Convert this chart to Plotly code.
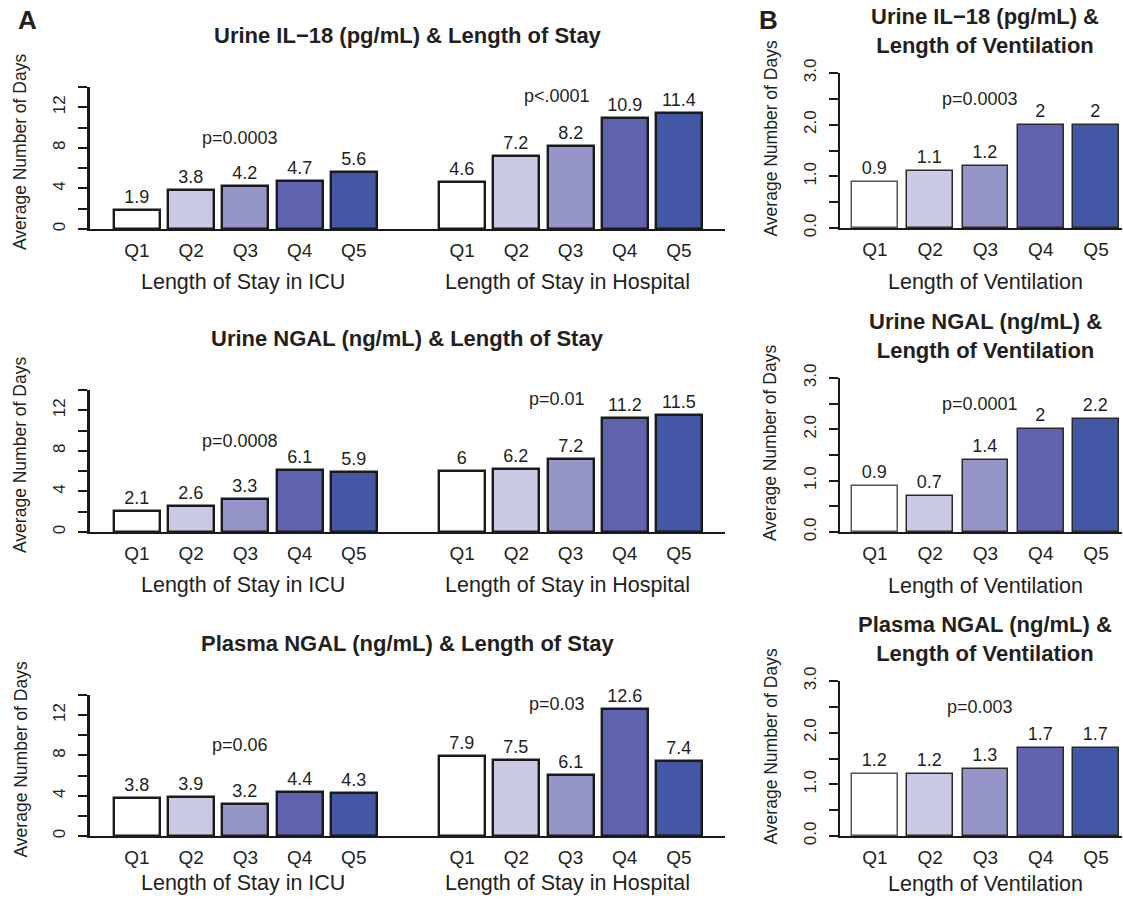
import plotly.graph_objects as go

W, H = 1123, 899

quartiles = ["Q1", "Q2", "Q3", "Q4", "Q5"]

# Panel A – length of stay (ICU, Hospital)
il18_icu = [1.9, 3.8, 4.2, 4.7, 5.6]
il18_hosp = [4.6, 7.2, 8.2, 10.9, 11.4]
ungal_icu = [2.1, 2.6, 3.3, 6.1, 5.9]
ungal_hosp = [6, 6.2, 7.2, 11.2, 11.5]
pngal_icu = [3.8, 3.9, 3.2, 4.4, 4.3]
pngal_hosp = [7.9, 7.5, 6.1, 12.6, 7.4]

# Panel B – length of ventilation
il18_vent = [0.9, 1.1, 1.2, 2, 2]
ungal_vent = [0.9, 0.7, 1.4, 2, 2.2]
pngal_vent = [1.2, 1.2, 1.3, 1.7, 1.7]

titles_A = ["Urine IL\u221218 (pg/mL) & Length of Stay",
            "Urine NGAL (ng/mL) & Length of Stay",
            "Plasma NGAL (ng/mL) & Length of Stay"]
titles_B = ["Urine IL\u221218 (pg/mL) &<br>Length of Ventilation",
            "Urine NGAL (ng/mL) &<br>Length of Ventilation",
            "Plasma NGAL (ng/mL) &<br>Length of Ventilation"]
p_icu = ["p=0.0003", "p=0.0008", "p=0.06"]
p_hosp = ["p<.0001", "p=0.01", "p=0.03"]
p_vent = ["p=0.0003", "p=0.0001", "p=0.003"]

q_colors = ["#FFFFFF", "#CBCAE5", "#9595C7", "#5F63AD", "#4357A5"]
B_outline = ["#555555", "#2A2A2A", "#2A2A2A", "#2A2A2A", "#2A2A2A"]

A_ticks = [0, 2, 4, 6, 8, 10, 12, 14]
A_ticktext = ["0", "", "4", "", "8", "", "12", ""]
B_ticks = [0, 0.5, 1, 1.5, 2, 2.5, 3]
B_ticktext = ["0.0", "", "1.0", "", "2.0", "", "3.0"]

FONT = "Liberation Sans, Arial, Helvetica, sans-serif"
TXT = "#231F20"

F_TITLE = 22
F_XTITLE = 21.5
F_Q = 19
F_VAL = 18
F_P = 18
F_YTITLE = 17.5
F_YTICK = 17


def px(x):
    return x / W


def py(y):
    return 1 - y / H


# pixel geometry of plot areas
A_xpx = (90, 725)
B_xpx = (840, 1122)
A_ypx = [(87, 229), (390, 532), (695, 836)]
B_ypx = [(73, 228), (378, 532), (681, 836)]
A_xrange = [-0.867, 10.85]
B_xrange = [-0.633, 4.47]

fig = go.Figure()
annotations = []
layout = {}

A_data = [(il18_icu, il18_hosp), (ungal_icu, ungal_hosp), (pngal_icu, pngal_hosp)]
B_data = [il18_vent, ungal_vent, pngal_vent]

pos1 = [i for i in range(5)]
pos2 = [i + 6 for i in range(5)]

for r in range(3):
    # ---------- Panel A ----------
    k = r + 1
    xa = "x" if k == 1 else f"x{k}"
    ya = "y" if k == 1 else f"y{k}"
    icu, hosp = A_data[r]
    vals = icu + hosp
    fig.add_trace(go.Bar(
        x=pos1 + pos2, y=vals, xaxis=xa, yaxis=ya,
        width=0.85,
        marker=dict(color=q_colors * 2, line=dict(color="#1A1A1A", width=2.4)),
        text=[f"{v:g}" for v in vals], textposition="outside",
        textfont=dict(size=F_VAL, color=TXT, family=FONT),
        constraintext="none", cliponaxis=False, showlegend=False,
        hoverinfo="skip"))
    y0, y1 = A_ypx[r]
    layout[f"xaxis{'' if k == 1 else k}"] = dict(
        domain=[px(A_xpx[0]), px(A_xpx[1])], range=A_xrange, anchor=ya,
        showline=True, linecolor="#1A1A1A", linewidth=2,
        tickvals=pos1 + pos2, ticktext=quartiles * 2, ticks="",
        ticklabelstandoff=3,
        tickfont=dict(size=F_Q, color=TXT, family=FONT), automargin=False,
        showgrid=False, zeroline=False, fixedrange=True)
    layout[f"yaxis{'' if k == 1 else k}"] = dict(
        domain=[py(y1), py(y0)], range=[0, 14], anchor=xa,
        showline=True, linecolor="#1A1A1A", linewidth=2.5,
        ticks="outside", ticklen=9, tickwidth=2, tickcolor="#1A1A1A",
        tickvals=A_ticks, ticktext=A_ticktext, tickangle=-90,
        ticklabelstandoff=6,
        tickfont=dict(size=F_YTICK, color=TXT, family=FONT), automargin=False,
        showgrid=False, zeroline=False, fixedrange=True)
    # title
    annotations.append(dict(text=f"<b>{titles_A[r]}</b>", xref="paper", yref="paper",
                            x=px((A_xpx[0] + A_xpx[1]) / 2), y=py(y0 - 52),
                            showarrow=False, xanchor="center", yanchor="middle",
                            font=dict(size=F_TITLE, color=TXT, family=FONT)))
    # y title
    annotations.append(dict(text="Average Number of Days", xref="paper", yref="paper",
                            x=px(20), y=py((y0 + y1) / 2 - 6), textangle=-90,
                            showarrow=False, xanchor="center", yanchor="middle",
                            font=dict(size=F_YTITLE, color=TXT, family=FONT)))
    # x titles
    xt_y = min(y1 + 53, 883)
    for xc, t in [(2, "Length of Stay in ICU"), (8, "Length of Stay in Hospital")]:
        annotations.append(dict(text=t, xref=xa, yref="paper", x=xc - 0.05, y=py(xt_y),
                                showarrow=False, xanchor="center", yanchor="middle",
                                font=dict(size=F_XTITLE, color=TXT, family=FONT)))
    # p-values
    annotations.append(dict(text=p_icu[r], xref=xa, yref=ya, x=1.9, y=9,
                            showarrow=False, xanchor="center", yanchor="middle",
                            font=dict(size=F_P, color=TXT, family=FONT)))
    annotations.append(dict(text=p_hosp[r], xref=xa, yref=ya, x=7.75, y=13.1,
                            showarrow=False, xanchor="center", yanchor="middle",
                            font=dict(size=F_P, color=TXT, family=FONT)))

    # ---------- Panel B ----------
    k = r + 4
    xb = f"x{k}"
    yb = f"y{k}"
    vals = B_data[r]
    fig.add_trace(go.Bar(
        x=pos1, y=vals, xaxis=xb, yaxis=yb,
        width=0.83,
        marker=dict(color=q_colors, line=dict(color=B_outline, width=1.5)),
        text=[f"{v:g}" for v in vals], textposition="outside",
        textfont=dict(size=F_VAL, color=TXT, family=FONT),
        constraintext="none", cliponaxis=False, showlegend=False,
        hoverinfo="skip"))
    y0, y1 = B_ypx[r]
    layout[f"xaxis{k}"] = dict(
        domain=[px(B_xpx[0]), px(B_xpx[1])], range=B_xrange, anchor=yb,
        showline=True, linecolor="#1A1A1A", linewidth=1.5,
        tickvals=pos1, ticktext=quartiles, ticks="",
        ticklabelstandoff=3,
        tickfont=dict(size=F_Q, color=TXT, family=FONT), automargin=False,
        showgrid=False, zeroline=False, fixedrange=True)
    layout[f"yaxis{k}"] = dict(
        domain=[py(y1), py(y0)], range=[0, 3], anchor=xb,
        showline=True, linecolor="#1A1A1A", linewidth=1.5,
        ticks="outside", ticklen=9, tickwidth=1.5, tickcolor="#1A1A1A",
        tickvals=B_ticks, ticktext=B_ticktext, tickangle=-90,
        ticklabelstandoff=6,
        tickfont=dict(size=F_YTICK, color=TXT, family=FONT), automargin=False,
        showgrid=False, zeroline=False, fixedrange=True)
    annotations.append(dict(text=f"<b>{titles_B[r]}</b>", xref="paper", yref="paper",
                            x=px(985), y=py(y0 - 42),
                            showarrow=False, xanchor="center", yanchor="middle",
                            font=dict(size=F_TITLE, color=TXT, family=FONT)))
    annotations.append(dict(text="Average Number of Days", xref="paper", yref="paper",
                            x=px(770), y=py((y0 + y1) / 2 - 12), textangle=-90,
                            showarrow=False, xanchor="center", yanchor="middle",
                            font=dict(size=F_YTITLE, color=TXT, family=FONT)))
    annotations.append(dict(text="Length of Ventilation", xref=xb, yref="paper", x=2,
                            y=py(min(y1 + 54, 884)),
                            showarrow=False, xanchor="center", yanchor="middle",
                            font=dict(size=F_XTITLE, color=TXT, family=FONT)))
    annotations.append(dict(text=p_vent[r], xref=xb, yref=yb, x=1.9, y=2.5,
                            showarrow=False, xanchor="center", yanchor="middle",
                            font=dict(size=F_P, color=TXT, family=FONT)))

# panel letters
annotations.append(dict(text="<b>A</b>", xref="paper", yref="paper", x=px(27), y=py(20),
                        showarrow=False, xanchor="center", yanchor="middle",
                        font=dict(size=26, color=TXT, family=FONT)))
annotations.append(dict(text="<b>B</b>", xref="paper", yref="paper", x=px(768), y=py(20),
                        showarrow=False, xanchor="center", yanchor="middle",
                        font=dict(size=26, color=TXT, family=FONT)))

fig.update_layout(
    width=W, height=H,
    margin=dict(l=0, r=0, t=0, b=0, pad=0, autoexpand=False),
    paper_bgcolor="white", plot_bgcolor="white",
    bargap=0, annotations=annotations,
    font=dict(family=FONT, color=TXT),
    **layout)

fig.write_html("out.html", config={"displayModeBar": False},
               post_script="document.body.style.margin='0';")
